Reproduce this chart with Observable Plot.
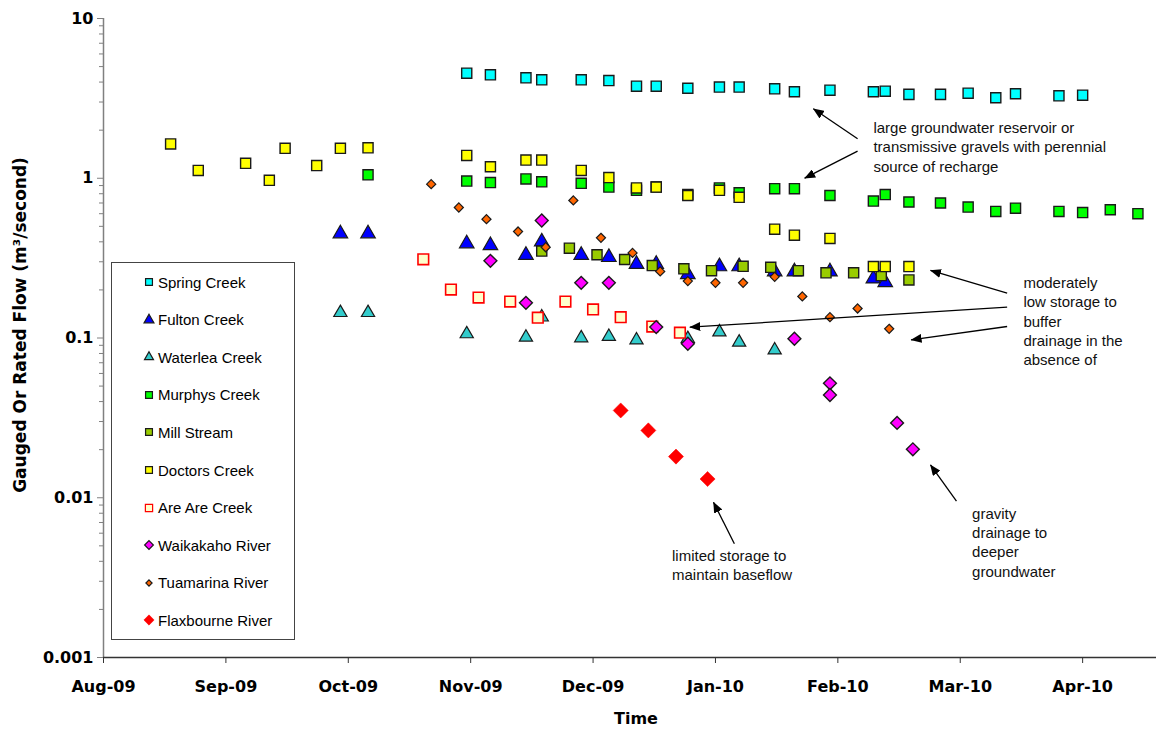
<!DOCTYPE html>
<html>
<head>
<meta charset="utf-8">
<script src="https://cdn.jsdelivr.net/npm/d3@7"></script>
<script src="https://cdn.jsdelivr.net/npm/@observablehq/plot@0.6"></script>
<style>
  html, body { margin: 0; padding: 0; background: #fff; }
  #wrap { position: relative; width: 1156px; height: 729px; overflow: hidden; }
  #legend { position: absolute; left: 111px; top: 262px; width: 184px; height: 378px; box-sizing: border-box;
            border: 1px solid #444; background: #fff; font-family: "Liberation Sans", Arial, sans-serif; font-size: 15px; color: #000; }
  .item { position: absolute; left: 0; height: 20px; display: flex; align-items: center; white-space: nowrap; }
  .item svg { display: block; }
</style>
</head>
<body>
<div id="wrap"></div>
<script>
// ---------------- DATA ----------------
const seriesNames = ["Spring Creek","Fulton Creek","Waterlea Creek","Murphys Creek","Mill Stream","Doctors Creek","Are Are Creek","Waikakaho River","Tuamarina River","Flaxbourne River"];

const springDates = ["2009-11-01","2009-11-07","2009-11-16","2009-11-20","2009-11-30","2009-12-07","2009-12-14","2009-12-19","2009-12-27","2010-01-04","2010-01-09","2010-01-18","2010-01-23","2010-02-01","2010-02-12","2010-02-15","2010-02-21","2010-03-01","2010-03-08","2010-03-15","2010-03-20","2010-03-31","2010-04-06"];
const springFlow = [4.55,4.44,4.25,4.13,4.13,4.09,3.77,3.77,3.66,3.72,3.72,3.63,3.48,3.56,3.48,3.51,3.35,3.35,3.41,3.19,3.38,3.28,3.31];

const fultonDates = ["2009-09-30","2009-10-07","2009-11-01","2009-11-07","2009-11-16","2009-11-20","2009-11-30","2009-12-07","2009-12-14","2009-12-19","2009-12-27","2010-01-04","2010-01-09","2010-01-18","2010-01-23","2010-02-01","2010-02-12","2010-02-15"];
const fultonFlow = [0.45,0.45,0.39,0.38,0.33,0.40,0.33,0.32,0.29,0.29,0.25,0.28,0.28,0.26,0.26,0.26,0.235,0.223];

const waterleaDates = ["2009-09-30","2009-10-07","2009-11-01","2009-11-16","2009-11-20","2009-11-30","2009-12-07","2009-12-14","2009-12-27","2010-01-04","2010-01-09","2010-01-18"];
const waterleaFlow = [0.144,0.144,0.106,0.101,0.135,0.100,0.102,0.097,0.099,0.109,0.094,0.084];

const murphysDates = ["2009-10-07","2009-11-01","2009-11-07","2009-11-16","2009-11-20","2009-11-30","2009-12-07","2009-12-14","2009-12-19","2009-12-27","2010-01-04","2010-01-09","2010-01-18","2010-01-23","2010-02-01","2010-02-12","2010-02-15","2010-02-21","2010-03-01","2010-03-08","2010-03-15","2010-03-20","2010-03-31","2010-04-06","2010-04-13","2010-04-20"];
const murphysFlow = [1.05,0.96,0.94,0.99,0.95,0.93,0.88,0.84,0.88,0.79,0.87,0.81,0.86,0.86,0.78,0.72,0.79,0.71,0.70,0.66,0.62,0.65,0.62,0.61,0.635,0.60];

const millDates = ["2009-11-20","2009-11-27","2009-12-04","2009-12-11","2009-12-18","2009-12-26","2010-01-02","2010-01-10","2010-01-17","2010-01-24","2010-01-31","2010-02-07","2010-02-14","2010-02-21"];
const millFlow = [0.35,0.365,0.332,0.31,0.284,0.271,0.264,0.281,0.277,0.264,0.256,0.256,0.246,0.231];

const doctorsDates = ["2009-08-18","2009-08-25","2009-09-06","2009-09-12","2009-09-16","2009-09-24","2009-09-30","2009-10-07","2009-11-01","2009-11-07","2009-11-16","2009-11-20","2009-11-30","2009-12-07","2009-12-14","2009-12-19","2009-12-27","2010-01-04","2010-01-09","2010-01-18","2010-01-23","2010-02-01","2010-02-12","2010-02-15","2010-02-21"];
const doctorsFlow = [1.64,1.12,1.24,0.97,1.54,1.20,1.54,1.55,1.39,1.18,1.30,1.30,1.12,1.01,0.87,0.88,0.78,0.84,0.76,0.48,0.44,0.42,0.28,0.28,0.28];

const arearDates = ["2009-10-21","2009-10-28","2009-11-04","2009-11-12","2009-11-19","2009-11-26","2009-12-03","2009-12-10","2009-12-18","2009-12-25"];
const arearFlow = [0.311,0.201,0.179,0.169,0.134,0.169,0.151,0.135,0.118,0.108];

const waikakahoDates = ["2009-11-07","2009-11-16","2009-11-20","2009-11-30","2009-12-07","2009-12-19","2009-12-27","2010-01-23","2010-02-01","2010-02-01","2010-02-18","2010-02-22"];
const waikakahoFlow = [0.304,0.166,0.544,0.2215,0.2215,0.117,0.092,0.099,0.052,0.044,0.0294,0.0201];

const tuamarinaDates = ["2009-10-23","2009-10-30","2009-11-06","2009-11-14","2009-11-21","2009-11-28","2009-12-05","2009-12-13","2009-12-20","2009-12-27","2010-01-03","2010-01-10","2010-01-18","2010-01-25","2010-02-01","2010-02-08","2010-02-16"];
const tuamarinaFlow = [0.918,0.656,0.554,0.464,0.370,0.726,0.424,0.341,0.261,0.227,0.2215,0.2215,0.2415,0.182,0.135,0.153,0.1142];

const flaxbourneDates = ["2009-12-10","2009-12-17","2009-12-24","2010-01-01"];
const flaxbourneFlow = [0.0352,0.0264,0.0181,0.0131];

const xTickDates = ["2009-08-01","2009-09-01","2009-10-02","2009-11-02","2009-12-03","2010-01-03","2010-02-03","2010-03-06","2010-04-06"];
const xTickLabels = ["Aug-09","Sep-09","Oct-09","Nov-09","Dec-09","Jan-10","Feb-10","Mar-10","Apr-10"];
const yTicks = [0.001,0.01,0.1,1,10];
const yTickLabels = ["0.001","0.01","0.1","1","10"];
const xDomain = ["2009-08-01","2010-04-24T17:00:00Z"];

const noteTexts = [
  "large groundwater reservoir or\ntransmissive gravels with perennial\nsource of recharge",
  "moderately\nlow storage to\nbuffer\ndrainage in the\nabsence of",
  "limited storage to\nmaintain baseflow",
  "gravity\ndrainage to\ndeeper\ngroundwater"
];
const noteDates = ["2010-02-12","2010-03-22","2009-12-23","2010-03-09"];
const noteFlows = [1.59,0.129,0.00384,0.00532];

const arrowFromDates = ["2010-02-08","2010-02-08","2010-03-17T21:00:00Z","2010-03-17T21:00:00Z","2010-03-17T21:00:00Z","2010-01-07T19:00:00Z","2010-03-05T01:00:00Z"];
const arrowFromFlows = [1.766,1.477,0.1908,0.1559,0.1180,0.00515,0.00952];
const arrowToDates = ["2010-01-27T19:00:00Z","2010-01-25T14:00:00Z","2010-02-26T11:00:00Z","2009-12-27T12:00:00Z","2010-02-21T13:00:00Z","2010-01-02T12:00:00Z","2010-02-26T11:00:00Z"];
const arrowToFlows = [2.72,1.0007,0.2646,0.1168,0.0974,0.00938,0.01608];

// ---------------- STYLES ----------------
const parse = s => new Date(s.length === 10 ? s + "T00:00:00Z" : s);
const dark = "#1a1a1a";
const styles = [
  {symbol: "square",   r: 5.7, fill: "#00FFFF", stroke: dark, sw: 1.4},
  {symbol: "triangle", r: 5.4, fill: "#0000FF", stroke: dark, sw: 1.2},
  {symbol: "triangle", r: 4.9, fill: "#33CCCC", stroke: dark, sw: 1.2},
  {symbol: "square",   r: 5.7, fill: "#00FF00", stroke: dark, sw: 1.4},
  {symbol: "square",   r: 5.7, fill: "#99CC00", stroke: dark, sw: 1.4},
  {symbol: "square",   r: 5.7, fill: "#FFFF00", stroke: dark, sw: 1.4},
  {symbol: "square",   r: 6.0, fill: "#FFFFCC", stroke: "#FF0000", sw: 1.6},
  {symbol: "diamond2", r: 5.8, fill: "#FF00FF", stroke: dark, sw: 1.4},
  {symbol: "diamond2", r: 4.1, fill: "#FF6600", stroke: dark, sw: 1.2},
  {symbol: "diamond2", r: 6.8, fill: "#FF0000", stroke: "#FF0000", sw: 0.5}
];
const seriesDates = [springDates, fultonDates, waterleaDates, murphysDates, millDates, doctorsDates, arearDates, waikakahoDates, tuamarinaDates, flaxbourneDates];
const seriesFlows = [springFlow, fultonFlow, waterleaFlow, murphysFlow, millFlow, doctorsFlow, arearFlow, waikakahoFlow, tuamarinaFlow, flaxbourneFlow];

const xLabelMap = new Map(xTickDates.map((d, i) => [+parse(d), xTickLabels[i]]));
const yLabelMap = new Map(yTicks.map((v, i) => [v, yTickLabels[i]]));
const yMinor = [];
for (const base of [0.001, 0.01, 0.1, 1]) for (let k = 2; k <= 9; k++) yMinor.push(+(k * base).toPrecision(3));

const dotMarks = seriesNames.map((name, i) => {
  const data = seriesDates[i].map((d, j) => ({date: parse(d), flow: seriesFlows[i][j]}));
  const s = styles[i];
  return Plot.dot(data, {x: "date", y: "flow", symbol: s.symbol, r: s.r, fill: s.fill, stroke: s.stroke, strokeWidth: s.sw});
});

const notes = noteTexts.map((t, i) => ({text: t, date: parse(noteDates[i]), flow: noteFlows[i]}));
const arrows = arrowFromDates.map((d, i) => ({x1: parse(d), y1: arrowFromFlows[i], x2: parse(arrowToDates[i]), y2: arrowToFlows[i]}));

const axisFont = "'DejaVu Sans', sans-serif";
const textFont = "'Liberation Sans', Arial, sans-serif";

const chart = Plot.plot({
  width: 1156,
  height: 729,
  marginLeft: 103,
  marginRight: 0,
  marginTop: 18,
  marginBottom: 72,
  style: {fontFamily: axisFont, fontSize: "16px", fontWeight: "bold", background: "#fff", color: "#000"},
  x: {type: "utc", domain: xDomain.map(parse)},
  y: {type: "log", domain: [0.001, 10]},
  marks: [
    Plot.axisY({ticks: yMinor, tickSize: 4, tickFormat: () => "", stroke: "#808080", label: null}),
    Plot.axisY({ticks: yTicks, tickSize: 6, tickPadding: 4, tickFormat: d => yLabelMap.get(d), stroke: "#808080", fill: "#000",
                fontFamily: axisFont, fontSize: 16, fontWeight: "bold", label: null}),
    Plot.axisX({ticks: xTickDates.map(parse), tickSize: 6, tickPadding: 17, tickFormat: d => xLabelMap.get(+d), stroke: "#333", fill: "#000",
                fontFamily: axisFont, fontSize: 16, fontWeight: "bold", label: null}),
    Plot.ruleX([parse(xDomain[0])], {stroke: "#808080", strokeWidth: 1.5}),
    Plot.ruleY([0.001], {stroke: "#333", strokeWidth: 1.5}),
    Plot.text(["Gauged Or Rated Flow (m³/second)"], {frameAnchor: "left", dx: -83, dy: -13, rotate: -90, textAnchor: "middle", lineAnchor: "middle",
                fontFamily: axisFont, fontSize: 17, fontWeight: "bold", fill: "#000"}),
    Plot.text(["Time"], {frameAnchor: "bottom", dx: 6, dy: 61, textAnchor: "middle", lineAnchor: "middle",
                fontFamily: axisFont, fontSize: 16, fontWeight: "bold", fill: "#000"}),
    ...dotMarks,
    Plot.link(arrows, {x1: "x1", y1: "y1", x2: "x2", y2: "y2", stroke: "#000", strokeWidth: 1.3}),
    Plot.text(notes, {x: "date", y: "flow", text: "text", textAnchor: "start", lineAnchor: "middle", lineHeight: 1.29,
                fontFamily: textFont, fontSize: 15, fontWeight: "normal", fill: "#111"})
  ]
});

// filled arrow heads for the annotation arrows
const svg = d3.select(chart.tagName.toLowerCase() === "svg" ? chart : chart.querySelector("svg"));
svg.append("defs").append("marker")
  .attr("id", "ahead").attr("viewBox", "0 0 11 9").attr("refX", 10.5).attr("refY", 4.5)
  .attr("markerWidth", 11).attr("markerHeight", 9).attr("markerUnits", "userSpaceOnUse").attr("orient", "auto")
  .append("path").attr("d", "M0,0L11,4.5L0,9Z").attr("fill", "#000");
svg.selectAll('g[aria-label="link"] path').attr("marker-end", "url(#ahead)");

const wrap = document.getElementById("wrap");
wrap.appendChild(chart);

// ---------------- LEGEND (inside the plot area) ----------------
const legend = document.createElement("div");
legend.id = "legend";
wrap.appendChild(legend);
const symMap = {square: d3.symbolSquare, triangle: d3.symbolTriangle, diamond2: d3.symbolDiamond2};
seriesNames.forEach((name, i) => {
  const s = styles[i];
  const item = document.createElement("div");
  item.className = "item";
  item.style.top = (9 + i * 37.6) + "px";
  const ls = 0.68;
  const path = d3.symbol(symMap[s.symbol], Math.PI * (s.r * ls) * (s.r * ls))();
  item.innerHTML = `<svg width="46" height="20"><path transform="translate(37,10)" d="${path}" fill="${s.fill}" stroke="${s.stroke}" stroke-width="${Math.min(s.sw, 1.2)}"/></svg><span>${name}</span>`;
  legend.appendChild(item);
});
</script>
</body>
</html>
